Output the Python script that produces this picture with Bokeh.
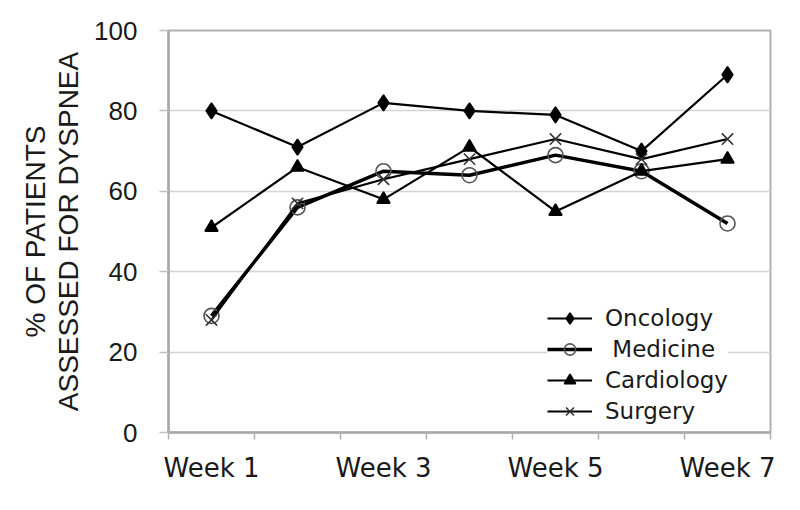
from bokeh.plotting import figure
from bokeh.models import FixedTicker, Legend, LegendItem, ColumnDataSource, Title
from bokeh.embed import file_html
from bokeh.resources import INLINE

weeks = ["Week 1", "Week 2", "Week 3", "Week 4", "Week 5", "Week 6", "Week 7"]
labelled_weeks = ["Week 1", "Week 3", "Week 5", "Week 7"]
oncology = [80, 71, 82, 80, 79, 70, 89]
medicine = [29, 56, 65, 64, 69, 65, 52]
cardiology = [51, 66, 58, 71, 55, 65, 68]
surgery = [28, 57, 63, 68, 73, 68, 73]
y_ticks = [0, 20, 40, 60, 80, 100]
y_title_lines = ["% OF PATIENTS", "ASSESSED FOR DYSPNEA"]

x = [weeks.index(w) + 1 for w in weeks]

p = figure(width=792, height=502, output_backend="svg", toolbar_location=None,
           x_range=(0.5, len(weeks) + 0.5), y_range=(0, 100),
           min_border_left=168, min_border_right=22, min_border_top=30, min_border_bottom=70)

p.background_fill_color = "white"
p.border_fill_color = "white"
p.outline_line_color = "#b0b0b0"
p.outline_line_width = 2

# x axis
p.xaxis.ticker = FixedTicker(ticks=[weeks.index(w) + 1 for w in labelled_weeks],
                             minor_ticks=[i + 0.5 for i in range(len(weeks) + 1)])
p.xaxis.major_label_overrides = {weeks.index(w) + 1: w for w in labelled_weeks}
p.xaxis.major_tick_line_color = None
p.xaxis.major_tick_out = 0
p.xaxis.major_tick_in = 0
p.xaxis.minor_tick_out = 7
p.xaxis.minor_tick_in = 0
p.xaxis.minor_tick_line_color = "#b0b0b0"
p.xaxis.minor_tick_line_width = 1.5
p.xaxis.axis_line_color = "#a8a8a8"
p.xaxis.axis_line_width = 2.5
p.xaxis.major_label_text_font = "DejaVu Sans"
p.xaxis.major_label_text_font_size = "26px"
p.xaxis.major_label_text_color = "#1a1a1a"
p.xaxis.major_label_standoff = 13

# y axis
p.yaxis.ticker = FixedTicker(ticks=y_ticks)
p.yaxis.minor_tick_line_color = None
p.yaxis.major_tick_out = 9
p.yaxis.major_tick_in = 0
p.yaxis.major_tick_line_color = "#c0c0c0"
p.yaxis.major_tick_line_width = 1.5
p.yaxis.axis_line_color = "#a8a8a8"
p.yaxis.axis_line_width = 2.5
p.yaxis.major_label_text_font = "Liberation Sans"
p.yaxis.major_label_text_font_size = "26px"
p.yaxis.major_label_text_color = "#1a1a1a"
p.yaxis.major_label_standoff = 22
p.yaxis.axis_label = y_title_lines[1]
p.yaxis.axis_label_text_font = "Liberation Sans"
p.yaxis.axis_label_text_font_size = "28px"
p.yaxis.axis_label_text_font_style = "normal"
p.yaxis.axis_label_text_color = "#1a1a1a"
p.yaxis.axis_label_standoff = 7

t1 = Title(text=y_title_lines[0], align="center", text_font="Liberation Sans",
           text_font_size="28px", text_font_style="normal", text_color="#1a1a1a",
           standoff=0, offset=0)
p.add_layout(t1, "left")

p.xgrid.grid_line_color = None
p.ygrid.grid_line_color = "#d4d4d4"
p.ygrid.grid_line_width = 1.5

series = [
    ("Oncology", oncology, "diamond", 16, "black", "black", 2.2),
    ("\u00a0Medicine", medicine, "circle", 15, "#555555", None, 3.5),
    ("Cardiology", cardiology, "triangle", 13, "black", "black", 2.2),
    ("Surgery", surgery, "x", 16, "#333333", None, 2.2),
]

items = []
for name, vals, marker, size, mcolor, fcolor, lw in series:
    src = ColumnDataSource(dict(x=x, y=vals))
    ln = p.line("x", "y", source=src, line_color="black", line_width=lw)
    sc = p.scatter("x", "y", source=src, marker=marker, size=size,
                   line_color=mcolor, fill_color=fcolor, line_width=1.6)
    items.append(LegendItem(label=name, renderers=[ln, sc]))

legend = Legend(items=items, location=(379, 7))
legend.background_fill_color = "white"
legend.background_fill_alpha = 1.0
legend.border_line_color = None
legend.label_text_font = "DejaVu Sans"
legend.label_text_font_size = "23px"
legend.label_text_color = "#1a1a1a"
legend.glyph_width = 45
legend.glyph_height = 28
legend.label_height = 20
legend.spacing = 3
legend.padding = 8
legend.label_standoff = 13
legend.margin = 0
p.add_layout(legend, "center")

open("out.html", "w").write(file_html(p, INLINE))
